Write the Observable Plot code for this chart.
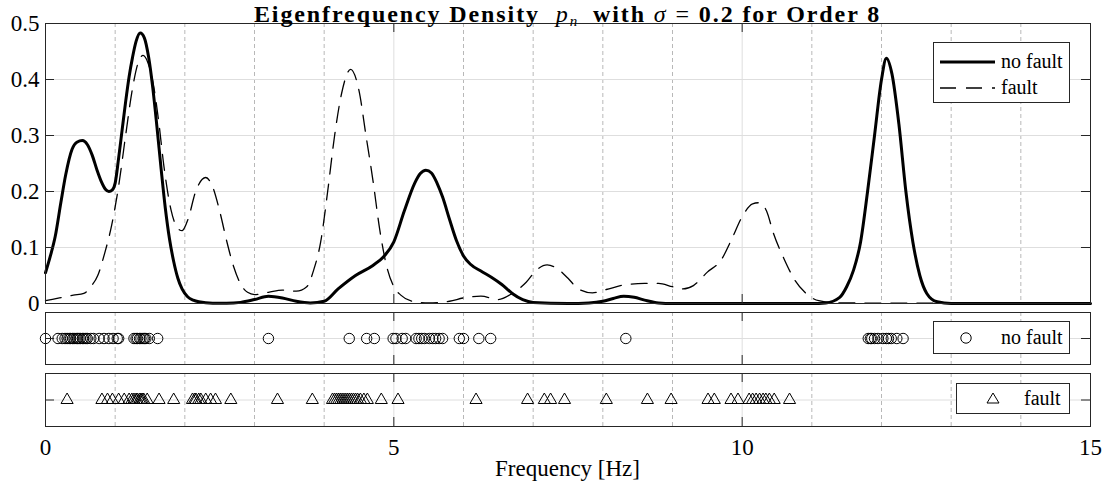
<!DOCTYPE html>
<html><head><meta charset="utf-8">
<script src="https://cdn.jsdelivr.net/npm/d3@7"></script>
<script src="https://cdn.jsdelivr.net/npm/@observablehq/plot@0.6"></script>
<style>
body{margin:0;background:#fff;}
#wrap{position:relative;width:1102px;height:484px;overflow:hidden;font-family:"Liberation Serif","Times New Roman",Times,serif;color:#000;background:#fff}
#wrap > svg{position:absolute;left:0;}
#wrap svg text{font-family:"Liberation Serif","Times New Roman",Times,serif !important;}
.title{position:absolute;left:45px;width:1045px;top:0px;text-align:center;font-size:24px;line-height:24px;letter-spacing:1.9px;white-space:nowrap;}
.title sub{font-size:15px;vertical-align:-4px;line-height:0;letter-spacing:0}
.legend{position:absolute;border:1px solid #262626;background:#fff;font-size:20px;box-sizing:border-box}
.legend .row{position:absolute;left:0;right:0;height:26px;line-height:26px}
.legend .row span{position:absolute}
.legend svg{position:absolute}
.xlabel{position:absolute;left:45px;width:1045px;text-align:center;font-size:23px;line-height:23px;}
</style></head>
<body><div id="wrap"></div>
<script>
// ---- data ----
const xDomain = [0, 15];
const majorX = [0, 5, 10, 15];
const minorX = [1, 2, 3, 4, 6, 7, 8, 9, 11, 12, 13, 14];
const yTicks = [0, 0.1, 0.2, 0.3, 0.4, 0.5];
const seriesNames = ["no fault", "fault"];

const noFaultF = [0, 0.07, 0.14, 0.22, 0.29, 0.38, 0.45, 0.53, 0.6, 0.67, 0.74, 0.8, 0.86, 0.91, 0.96, 1.0, 1.05, 1.1, 1.15, 1.2, 1.25, 1.3, 1.36, 1.42, 1.48, 1.54, 1.6, 1.66, 1.72, 1.78, 1.84, 1.9, 1.96, 2.04, 2.12, 2.2, 2.4, 2.6, 2.8, 3.0, 3.2, 3.4, 3.6, 3.8, 4.0, 4.2, 4.45, 4.7, 4.85, 5.0, 5.15, 5.3, 5.38, 5.46, 5.54, 5.62, 5.7, 5.8, 5.9, 6.0, 6.1, 6.25, 6.4, 6.55, 6.7, 6.85, 7.0, 7.5, 7.8, 8.0, 8.15, 8.3, 8.45, 8.6, 8.8, 9.0, 10.5, 11.0, 11.2, 11.4, 11.5, 11.6, 11.7, 11.8, 11.9, 12.0, 12.07, 12.15, 12.25, 12.35, 12.45, 12.55, 12.65, 12.8, 13.0, 15.0];
const noFaultP = [0.055, 0.085, 0.12, 0.18, 0.23, 0.275, 0.288, 0.291, 0.284, 0.265, 0.238, 0.218, 0.204, 0.2, 0.203, 0.215, 0.26, 0.31, 0.36, 0.405, 0.44, 0.468, 0.483, 0.474, 0.44, 0.385, 0.315, 0.24, 0.17, 0.115, 0.075, 0.045, 0.026, 0.012, 0.006, 0.003, 0.0005, 0.0005, 0.002, 0.007, 0.013, 0.01, 0.004, 0.001, 0.004, 0.026, 0.05, 0.068, 0.083, 0.11, 0.165, 0.215, 0.232, 0.238, 0.233, 0.215, 0.19, 0.15, 0.112, 0.085, 0.07, 0.058, 0.047, 0.034, 0.018, 0.007, 0.002, 0.0, 0.001, 0.004, 0.009, 0.013, 0.011, 0.006, 0.001, 0.0, 0.0, 0.0, 0.001, 0.011, 0.03, 0.06, 0.11, 0.2, 0.3, 0.4, 0.438, 0.41, 0.32, 0.2, 0.11, 0.05, 0.018, 0.003, 0.0, 0.0];

const faultF = [0, 0.2, 0.4, 0.55, 0.65, 0.75, 0.85, 0.95, 1.05, 1.15, 1.25, 1.33, 1.4, 1.47, 1.55, 1.62, 1.7, 1.8, 1.9, 1.96, 2.05, 2.15, 2.3, 2.4, 2.5, 2.6, 2.7, 2.8, 2.9, 3.0, 3.2, 3.4, 3.6, 3.75, 3.85, 3.95, 4.05, 4.15, 4.25, 4.38, 4.5, 4.6, 4.7, 4.8, 4.9, 5.0, 5.1, 5.3, 5.5, 5.8, 6.0, 6.25, 6.5, 6.7, 6.9, 7.05, 7.2, 7.35, 7.5, 7.65, 7.85, 8.05, 8.3, 8.6, 8.8, 9.0, 9.15, 9.3, 9.5, 9.7, 9.85, 10.0, 10.15, 10.25, 10.35, 10.45, 10.6, 10.75, 10.9, 11.1, 11.4, 15.0];
const faultP = [0.005, 0.01, 0.015, 0.018, 0.03, 0.05, 0.09, 0.14, 0.21, 0.3, 0.385, 0.43, 0.443, 0.43, 0.39, 0.33, 0.245, 0.168, 0.134, 0.13, 0.152, 0.198, 0.225, 0.208, 0.165, 0.112, 0.066, 0.035, 0.02, 0.016, 0.02, 0.024, 0.022, 0.03, 0.06, 0.11, 0.2, 0.3, 0.375, 0.418, 0.38, 0.3, 0.22, 0.13, 0.065, 0.03, 0.015, 0.003, 0.001, 0.004, 0.01, 0.013, 0.007, 0.018, 0.038, 0.06, 0.069, 0.062, 0.045, 0.026, 0.019, 0.025, 0.033, 0.036, 0.036, 0.03, 0.026, 0.032, 0.056, 0.078, 0.115, 0.155, 0.178, 0.18, 0.165, 0.125, 0.08, 0.043, 0.02, 0.005, 0.001, 0.0];

const eigNoFault = [0.0, 0.18, 0.24, 0.28, 0.31, 0.34, 0.36, 0.39, 0.41, 0.44, 0.46, 0.48, 0.5, 0.53, 0.55, 0.58, 0.6, 0.65, 0.69, 0.77, 0.84, 0.91, 0.97, 1.03, 1.05, 1.27, 1.3, 1.32, 1.35, 1.37, 1.4, 1.42, 1.44, 1.49, 1.61, 3.2, 4.36, 4.61, 4.72, 4.99, 5.03, 5.12, 5.17, 5.32, 5.36, 5.4, 5.44, 5.51, 5.56, 5.6, 5.65, 5.7, 5.94, 6.0, 6.22, 6.39, 8.33, 11.81, 11.84, 11.86, 11.9, 11.95, 12.02, 12.07, 12.1, 12.14, 12.22, 12.31];
const eigFault = [0.31, 0.81, 0.89, 0.96, 1.05, 1.13, 1.2, 1.24, 1.27, 1.3, 1.32, 1.35, 1.37, 1.39, 1.41, 1.46, 1.63, 1.84, 2.11, 2.14, 2.16, 2.2, 2.23, 2.3, 2.37, 2.44, 2.66, 3.33, 3.83, 4.12, 4.15, 4.18, 4.21, 4.24, 4.27, 4.3, 4.33, 4.36, 4.39, 4.42, 4.45, 4.48, 4.52, 4.57, 4.62, 4.82, 5.06, 6.18, 6.92, 7.16, 7.25, 7.45, 8.05, 8.64, 8.98, 9.51, 9.6, 9.84, 9.94, 10.1, 10.15, 10.2, 10.25, 10.3, 10.34, 10.39, 10.46, 10.68];

// ---- build ----
const noFaultCurve = noFaultF.map((f, i) => ({f, p: noFaultP[i]}));
const faultCurve = faultF.map((f, i) => ({f, p: faultP[i]}));

const W = 1102, ML = 45, MR = 12, FW = W - ML - MR;
const AX = "#262626", GRID = "#dedede", MINOR = "#b8b8b8", TL = 9;
const FONT = '"Liberation Serif", "Times New Roman", serif';
const font = {fontFamily: FONT, fontSize: "23px", color: "#000", background: "transparent", overflow: "visible"};

function panelMarks(yGrid) {
  return [
    Plot.ruleX(minorX, {stroke: MINOR, strokeDasharray: "4,3"}),
    Plot.ruleX([5, 10], {stroke: GRID}),
    Plot.ruleY(yGrid, {stroke: GRID}),
  ];
}
function tickMarks(FH, yT) {
  return [
    Plot.tickX(majorX, {x: d => d, stroke: AX, insetBottom: FH - TL}),
    Plot.tickX(majorX, {x: d => d, stroke: AX, insetTop: FH - TL}),
    Plot.tickY(yT, {y: d => d, stroke: AX, insetRight: FW - TL}),
    Plot.tickY(yT, {y: d => d, stroke: AX, insetLeft: FW - TL}),
    Plot.frame({stroke: AX})
  ];
}

const wrap = document.getElementById("wrap");
function place(svg, t) {
  svg.style.top = t + "px";
  svg.style.fontFamily = FONT;
  wrap.appendChild(svg);
}

// top panel
const MT1 = 23, FH1 = 280;
const topPlot = Plot.plot({
  width: W, height: MT1 + FH1 + 7, marginLeft: ML, marginRight: MR, marginTop: MT1, marginBottom: 7,
  style: font,
  x: {domain: xDomain, axis: null},
  y: {domain: [0, 0.5], axis: null},
  marks: [
    ...panelMarks([0.1, 0.2, 0.3, 0.4]),
    Plot.line(faultCurve, {x: "f", y: "p", curve: "monotone-x", stroke: "#000", strokeWidth: 1.3, strokeDasharray: "16,10"}),
    Plot.line(noFaultCurve, {x: "f", y: "p", curve: "monotone-x", stroke: "#000", strokeWidth: 3}),
    ...tickMarks(FH1, yTicks),
    Plot.axisY(yTicks, {tickSize: 0, tickPadding: 6, tickFormat: d => String(d), fontSize: 23, label: null})
  ]
});
place(topPlot, 0);

// middle panel
const FH2 = 52;
const midPlot = Plot.plot({
  width: W, height: 7 + FH2 + 1, marginLeft: ML, marginRight: MR, marginTop: 7, marginBottom: 1,
  style: font,
  x: {domain: xDomain, axis: null},
  y: {domain: [-1, 1], axis: null},
  marks: [
    ...panelMarks([0]),
    Plot.dot(eigNoFault, {x: d => d, y: () => 0, r: 5.2, stroke: "#000", fill: "none", strokeWidth: 1}),
    ...tickMarks(FH2, [0])
  ]
});
place(midPlot, 305);

// bottom panel
const FH3 = 53;
const botPlot = Plot.plot({
  width: W, height: 7 + FH3 + 58, marginLeft: ML, marginRight: MR, marginTop: 7, marginBottom: 58,
  style: font,
  x: {domain: xDomain, axis: null},
  y: {domain: [-1, 1], axis: null},
  marks: [
    ...panelMarks([0]),
    Plot.dot(eigFault, {x: d => d, y: () => 0, r: 4.5, symbol: "triangle", stroke: "#000", fill: "none", strokeWidth: 1}),
    ...tickMarks(FH3, [0]),
    Plot.axisX(majorX, {tickSize: 0, tickPadding: 12, fontSize: 23, label: null})
  ]
});
place(botPlot, 366);

// title
const title = document.createElement("div");
title.className = "title";
title.style.top = "1.5px";
title.innerHTML = '<b>Eigenfrequency Density</b>&nbsp; <i>p</i><sub><i>n</i></sub>&nbsp; <b>with</b> <i>σ</i> = <b>0.2 for Order 8</b>';
wrap.appendChild(title);

// x label
const xl = document.createElement("div");
xl.className = "xlabel";
xl.style.top = "457px";
xl.textContent = "Frequency [Hz]";
wrap.appendChild(xl);

// legends
function legend(left, topPx, w, h, rows) {
  const d = document.createElement("div");
  d.className = "legend";
  Object.assign(d.style, {left: left + "px", top: topPx + "px", width: w + "px", height: h + "px"});
  rows.forEach(r => {
    const row = document.createElement("div");
    row.className = "row";
    row.style.top = r.y + "px";
    row.innerHTML = r.svg + `<span style="left:${r.tx}px">${r.text}</span>`;
    d.appendChild(row);
  });
  wrap.appendChild(d);
}
legend(933, 42, 137, 61, [
  {y: 5, tx: 67, text: seriesNames[0], svg: '<svg width="60" height="26" style="left:6px;top:0"><line x1="0" x2="55" y1="14" y2="14" stroke="#000" stroke-width="3"/></svg>'},
  {y: 31, tx: 67, text: seriesNames[1], svg: '<svg width="60" height="26" style="left:6px;top:0"><line x1="0" x2="55" y1="14" y2="14" stroke="#000" stroke-width="1.3" stroke-dasharray="16,10"/></svg>'}
]);
legend(933, 321, 137, 33, [
  {y: 2, tx: 67, text: seriesNames[0], svg: '<svg width="30" height="26" style="left:18px;top:0"><circle cx="14" cy="14" r="5.2" fill="none" stroke="#000"/></svg>'}
]);
legend(956, 383, 114, 31, [
  {y: 1, tx: 67, text: seriesNames[1], svg: '<svg width="30" height="26" style="left:22px;top:0"><path d="M14,8 L20,18 L8,18 Z" fill="none" stroke="#000"/></svg>'}
]);
</script>
</body></html>
